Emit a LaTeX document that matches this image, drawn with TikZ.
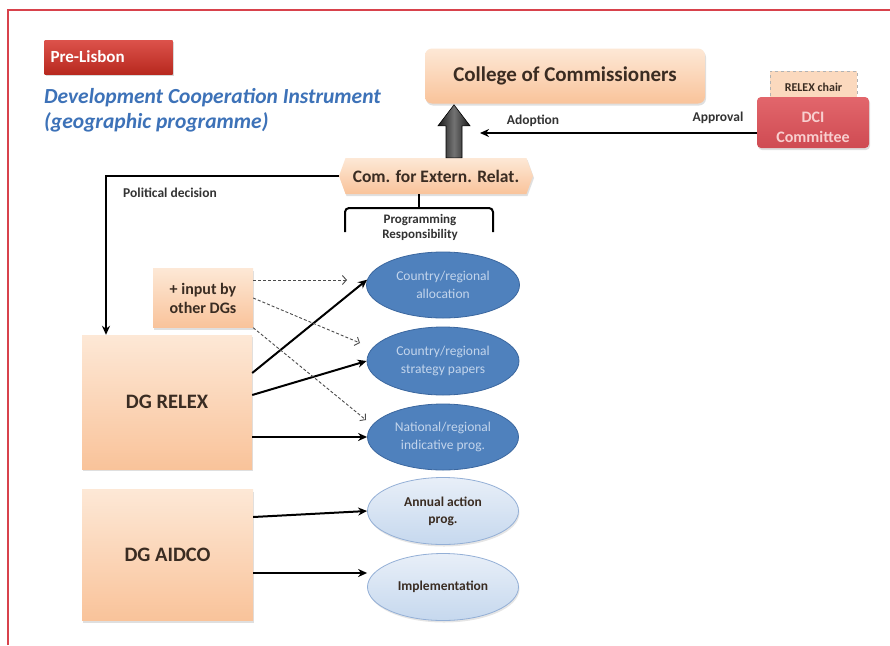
\documentclass[tikz,border=0pt]{standalone}
\usepackage{fontspec}
\setmainfont{Carlito}
\usetikzlibrary{arrows.meta,shapes.geometric,shapes.symbols,shadows,calc}
\definecolor{framered}{HTML}{D8424C}
\definecolor{peachT}{HTML}{FDE8D6}
\definecolor{peachB}{HTML}{F9C39A}
\definecolor{redT}{HTML}{DC524B}
\definecolor{redB}{HTML}{B8291F}
\definecolor{dciT}{HTML}{E2666C}
\definecolor{dciB}{HTML}{CF4B52}
\definecolor{dcitxt}{HTML}{F8CFCF}
\definecolor{titleblue}{HTML}{3D72B8}
\definecolor{darkell}{HTML}{4F81BD}
\definecolor{darkellB}{HTML}{3B679F}
\definecolor{darktxt}{HTML}{C3D5EC}
\definecolor{lightT}{HTML}{E8EFF8}
\definecolor{lightB}{HTML}{C6D8EE}
\definecolor{lightBorder}{HTML}{93AFD6}
\definecolor{txtc}{HTML}{3A2C22}
\begin{document}
\begin{tikzpicture}[x=1pt,y=-1pt,
  peachbox/.style={rectangle, top color=peachT, bottom color=peachB, draw=none,
    drop shadow={opacity=0.25,shadow xshift=1pt,shadow yshift=-2pt},
    text=txtc, align=center, inner sep=2pt},
  darkellipse/.style={ellipse, fill=darkell, draw=darkellB, line width=0.8pt,
    text=darktxt, align=center, inner sep=0pt, font=\fontsize{13.5}{17.5}\selectfont},
  lightellipse/.style={ellipse, top color=lightT, bottom color=lightB, draw=lightBorder, line width=0.8pt,
    text=txtc, align=center, inner sep=0pt, font=\fontsize{13.5}{17}\selectfont\bfseries,
    drop shadow={opacity=0.2,shadow xshift=1pt,shadow yshift=-2pt}},
  arr/.style={line width=2pt, -{Stealth[length=9pt,width=8pt]}},
  dasharr/.style={line width=0.9pt, draw=black!70, dash pattern=on 3pt off 2pt, -{Straight Barb[length=4pt,width=9pt,line width=0.9pt]}},
  lbl/.style={text=black!80, font=\fontsize{13.5}{15}\selectfont\bfseries, inner sep=0pt},
  framestroke/.style={draw=framered, line width=1.2pt}
]
\useasboundingbox (0,0) rectangle (890,645);
\fill[white] (0,0) rectangle (890,645);
\draw[framestroke] (8,645) -- (8,10) -- (890,10);

% Title elements
\node[rectangle, top color=redT, bottom color=redB, minimum width=128pt, minimum height=34pt,
  text width=116pt, align=left, inner xsep=6pt, text=white,
  font=\fontsize{17}{18}\selectfont\bfseries,
  drop shadow={opacity=0.3,shadow xshift=1pt,shadow yshift=-2pt}] (pre) at (108.5,57) {Pre-Lisbon};
\node[anchor=west, align=left, text=titleblue, inner sep=0pt,
  font=\fontsize{21.5}{25}\selectfont\bfseries\itshape] (title) at (44,110)
  {Development Cooperation Instrument\\(geographic programme)};

% Top nodes
\node[peachbox, rounded corners=7pt, minimum width=280pt, minimum height=55pt,
  font=\fontsize{21}{22}\selectfont\bfseries] (college) at (565,76) {College of Commissioners};
\node[rectangle, fill=peachT!60!peachB, draw=black!30, dashed, line width=0.5pt,
  minimum width=87pt, minimum height=26pt, text=txtc, inner sep=0pt,
  font=\fontsize{12}{13}\selectfont\bfseries] (chair) at (813.5,84) {};
\node[text=txtc, inner sep=0pt, font=\fontsize{12}{13}\selectfont\bfseries] (chairtext) at (813.5,87) {RELEX chair};
\node[rectangle, rounded corners=4pt, top color=dciT, bottom color=dciB, draw=none,
  minimum width=112pt, minimum height=51pt,
  drop shadow={opacity=0.25,shadow xshift=1pt,shadow yshift=-2pt}] (dci) at (813,122.5) {};
\node[text=dcitxt, align=center, inner sep=0pt, font=\fontsize{16}{20}\selectfont\bfseries]
  (dcitext) at (813,127) {DCI\\Committee};
\node[signal, signal to=west and east, signal pointer angle=140, top color=peachT, bottom color=peachB,
  draw=none, minimum width=194pt, minimum height=36pt, inner sep=1pt, text=txtc,
  font=\fontsize{17.5}{19}\selectfont\bfseries,
  drop shadow={opacity=0.25,shadow xshift=1pt,shadow yshift=-2pt}] (com) at (436,176) {Com. for Extern. Relat.};

% block arrow from com to college
\coordinate (bshaft) at ([xshift=18pt]com.north);
\draw[draw=black, line width=0.6pt, left color=black!90, right color=black!90, middle color=black!55]
  ($(bshaft)+(-8,0)$) -- ($(bshaft)+(-8,-32)$) -- ($(bshaft)+(-16,-32)$) -- ($(bshaft)+(0,-53)$)
  -- ($(bshaft)+(16,-32)$) -- ($(bshaft)+(8,-32)$) -- ($(bshaft)+(8,0)$) -- cycle;

% adoption
\coordinate (adoptend) at (480,133);
\draw[arr] ([yshift=-10.5pt]dci.west) -- (adoptend);
\node[lbl] (adopt) at (533,121) {Adoption};
\node[lbl] (approve) at (718,118) {Approval};

% DG boxes
\node[peachbox, minimum width=170pt, minimum height=134pt,
  font=\fontsize{20.5}{22}\selectfont\bfseries] (relex) at (167,402) {DG RELEX};
\node[peachbox, minimum width=171pt, minimum height=131pt,
  font=\fontsize{20.5}{22}\selectfont\bfseries] (aidco) at (167.5,555) {DG AIDCO};
\node[peachbox, minimum width=100pt, minimum height=59pt,
  font=\fontsize{16}{19}\selectfont\bfseries] (input) at (203,298) {+ input by\\other DGs};

% political decision
\coordinate (reltop) at ([xshift=-61pt]relex.north);
\draw[arr] (com.west) -| (reltop);
\node[lbl, anchor=west] (pd) at (123,193) {Political decision};

% brace
\coordinate (bracetop) at ([xshift=-17pt]com.south);
\draw[line width=2pt] (bracetop) -- ++(0,14);
\draw[line width=2pt, rounded corners=4pt] (345,232) -- (345,208) -- (493,208) -- (493,232);
\node[lbl, align=center, font=\fontsize{13}{15}\selectfont\bfseries] (prog) at (420,227) {Programming\\Responsibility};

% ellipses
\node[darkellipse, minimum width=153pt, minimum height=66pt] (e1) at (443,285) {Country/regional\\allocation};
\node[darkellipse, minimum width=152pt, minimum height=68pt] (e2) at (443,361) {Country/regional\\strategy papers};
\node[darkellipse, minimum width=151pt, minimum height=66pt] (e3) at (443,437) {National/regional\\indicative prog.};
\node[lightellipse, minimum width=151pt, minimum height=67pt] (e4) at (443,511) {Annual action\\prog.};
\node[lightellipse, minimum width=151pt, minimum height=67pt] (e5) at (443,587) {Implementation};

% solid arrows
\draw[arr] ([yshift=29pt]relex.east) -- (e1.176);
\draw[arr] ([yshift=7pt]relex.east) -- (e2.west);
\draw[arr] (relex.east |- e3.west) -- (e3.west);
\draw[arr] ([yshift=38pt]aidco.east) -- (e4.west);
\draw[arr] ([yshift=-18pt]aidco.east) -- ([yshift=-18pt]aidco.east -| e5.west);

% dashed arrows
\coordinate (d1) at (347,280);
\coordinate (d2) at (360,343);
\coordinate (d3) at (366,420);
\draw[dasharr] ([yshift=18pt]input.east) -- (d1);
\draw[dasharr] (input.east) -- (d2);
\draw[dasharr] (input.south east) -- (d3);
\end{tikzpicture}
\end{document}
